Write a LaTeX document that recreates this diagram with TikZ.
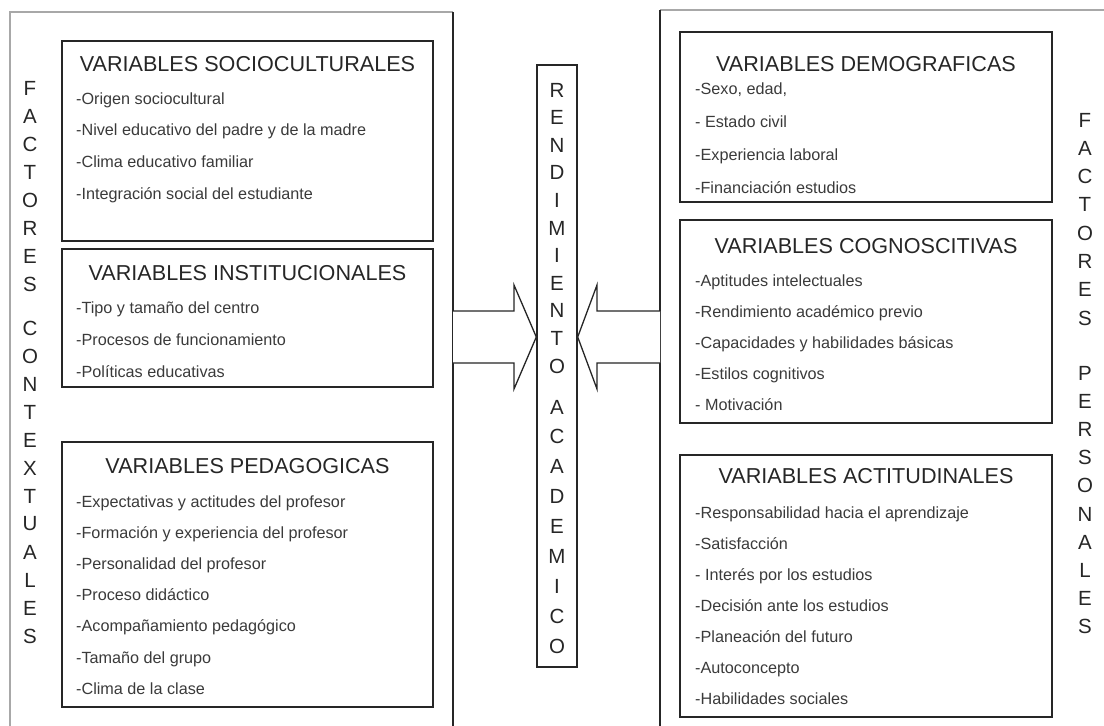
\documentclass[tikz,border=0pt]{standalone}
\usepackage{fontspec}
\setmainfont{Liberation Sans}
\usetikzlibrary{calc}
\definecolor{ink}{HTML}{262626}
\definecolor{txt}{HTML}{3A3A3A}
\definecolor{faint}{HTML}{A8A8A8}
\begin{document}
\begin{tikzpicture}[x=1pt,y=-1pt,
  varbox/.style={draw=ink, line width=1.7pt, inner sep=0pt},
  vtitle/.style={font=\fontsize{21.6}{26}\selectfont, text=ink, anchor=base, inner sep=0pt},
  vitem/.style={font=\fontsize{16.2}{19}\selectfont, text=txt, anchor=base west, inner sep=0pt},
  vletter/.style={font=\fontsize{20.5}{24}\selectfont, text=ink, inner sep=0pt},
  outerline/.style={draw=ink, line width=1.5pt},
  faintline/.style={draw=faint, line width=1.2pt},
  bigarrow/.style={draw=ink, line width=1.3pt, fill=white, line join=miter}
]
\useasboundingbox (0,0) rectangle (1104,726);

% outer frames (cut by the page at the bottom / right)
\coordinate (lo-tl) at (10,12);
\coordinate (lo-tr) at (453,12);
\coordinate (lo-bl) at (10,726);
\coordinate (lo-br) at (453,726);
\coordinate (ro-tl) at (660,10);
\coordinate (ro-tr) at (1104,10);
\coordinate (ro-bl) at (660,726);
\draw[faintline] (lo-bl) -- (lo-tl) -- (lo-tr);
\draw[outerline] (lo-tr) -- (lo-br);
\draw[faintline] (ro-tl) -- (ro-tr);
\draw[outerline] (ro-tl) -- (ro-bl);

% ---------- left boxes ----------
\node[varbox, minimum width=371, minimum height=200] (soc) at (247.5,141) {};
\node[vtitle] (soc-t) at (247.5,71) {VARIABLES SOCIOCULTURALES};
\foreach \t [count=\i] in {{-Origen sociocultural},{-Nivel educativo del padre y de la madre},{-Clima educativo familiar},{-Integración social del estudiante}}
  \node[vitem] (soc-\i) at (76,{104+31.7*(\i-1)}) {\t};

\node[varbox, minimum width=371, minimum height=138] (inst) at (247.5,318) {};
\node[vtitle] (inst-t) at (247.5,280) {VARIABLES INSTITUCIONALES};
\foreach \t [count=\i] in {{-Tipo y tamaño del centro},{-Procesos de funcionamiento},{-Políticas educativas}}
  \node[vitem] (inst-\i) at (76,{313+32*(\i-1)}) {\t};

\node[varbox, minimum width=371, minimum height=265] (ped) at (247.5,574.5) {};
\node[vtitle] (ped-t) at (247.5,473) {VARIABLES PEDAGOGICAS};
\foreach \t [count=\i] in {{-Expectativas y actitudes del profesor},{-Formación y experiencia del profesor},{-Personalidad del profesor},{-Proceso didáctico},{-Acompañamiento pedagógico},{-Tamaño del grupo},{-Clima de la clase}}
  \node[vitem] (ped-\i) at (76,{507+31.2*(\i-1)}) {\t};

% ---------- right boxes ----------
\node[varbox, minimum width=372, minimum height=170] (dem) at (866,117) {};
\node[vtitle] (dem-t) at (866,71) {VARIABLES DEMOGRAFICAS};
\foreach \t [count=\i] in {{-Sexo, edad,},{- Estado civil},{-Experiencia laboral},{-Financiación estudios}}
  \node[vitem] (dem-\i) at (695,{94+33*(\i-1)}) {\t};

\node[varbox, minimum width=372, minimum height=203] (cog) at (866,321.5) {};
\node[vtitle] (cog-t) at (866,253) {VARIABLES COGNOSCITIVAS};
\foreach \t [count=\i] in {{-Aptitudes intelectuales},{-Rendimiento académico previo},{-Capacidades y habilidades básicas},{-Estilos cognitivos},{- Motivación}}
  \node[vitem] (cog-\i) at (695,{286+31.2*(\i-1)}) {\t};

\node[varbox, minimum width=372, minimum height=262] (act) at (866,586) {};
\node[vtitle] (act-t) at (866,483) {VARIABLES ACTITUDINALES};
\foreach \t [count=\i] in {{-Responsabilidad hacia el aprendizaje},{-Satisfacción},{- Interés por los estudios},{-Decisión ante los estudios},{-Planeación del futuro},{-Autoconcepto},{-Habilidades sociales}}
  \node[vitem] (act-\i) at (695,{518+31*(\i-1)}) {\t};

% ---------- side letter columns ----------
\foreach \l [count=\i] in {F,A,C,T,O,R,E,S}
  \node[vletter] (lf-\i) at (30,{88+28*(\i-1)}) {\l};
\foreach \l [count=\i] in {C,O,N,T,E,X,T,U,A,L,E,S}
  \node[vletter] (lc-\i) at (30,{328+28*(\i-1)}) {\l};
\foreach \l [count=\i] in {F,A,C,T,O,R,E,S}
  \node[vletter] (rf-\i) at (1085,{120+28.3*(\i-1)}) {\l};
\foreach \l [count=\i] in {P,E,R,S,O,N,A,L,E,S}
  \node[vletter] (rp-\i) at (1085,{373+28.2*(\i-1)}) {\l};

% ---------- centre box ----------
\node[varbox, line width=1.4pt, minimum width=40, minimum height=602] (rend) at (557,366) {};
\foreach \l [count=\i] in {R,E,N,D,I,M,I,E,N,T,O}
  \node[vletter] (cr-\i) at (557,{90+27.6*(\i-1)}) {\l};
\foreach \l [count=\i] in {A,C,A,D,E,M,I,C,O}
  \node[vletter] (ca-\i) at (557,{407+29.9*(\i-1)}) {\l};

% ---------- block arrows ----------
\coordinate (ay) at (0,337);
\coordinate (ltip) at (rend.west |- ay);
\coordinate (rtip) at (rend.east |- ay);
\draw[bigarrow] (lo-tr |- 0,311) -- (514,311) -- (514,285) -- (ltip) -- (514,389) -- (514,363) -- (lo-tr |- 0,363);
\draw[bigarrow] (ro-tl |- 0,311) -- (597,311) -- (597,285) -- (rtip) -- (597,389) -- (597,363) -- (ro-tl |- 0,363);
\end{tikzpicture}
\end{document}
